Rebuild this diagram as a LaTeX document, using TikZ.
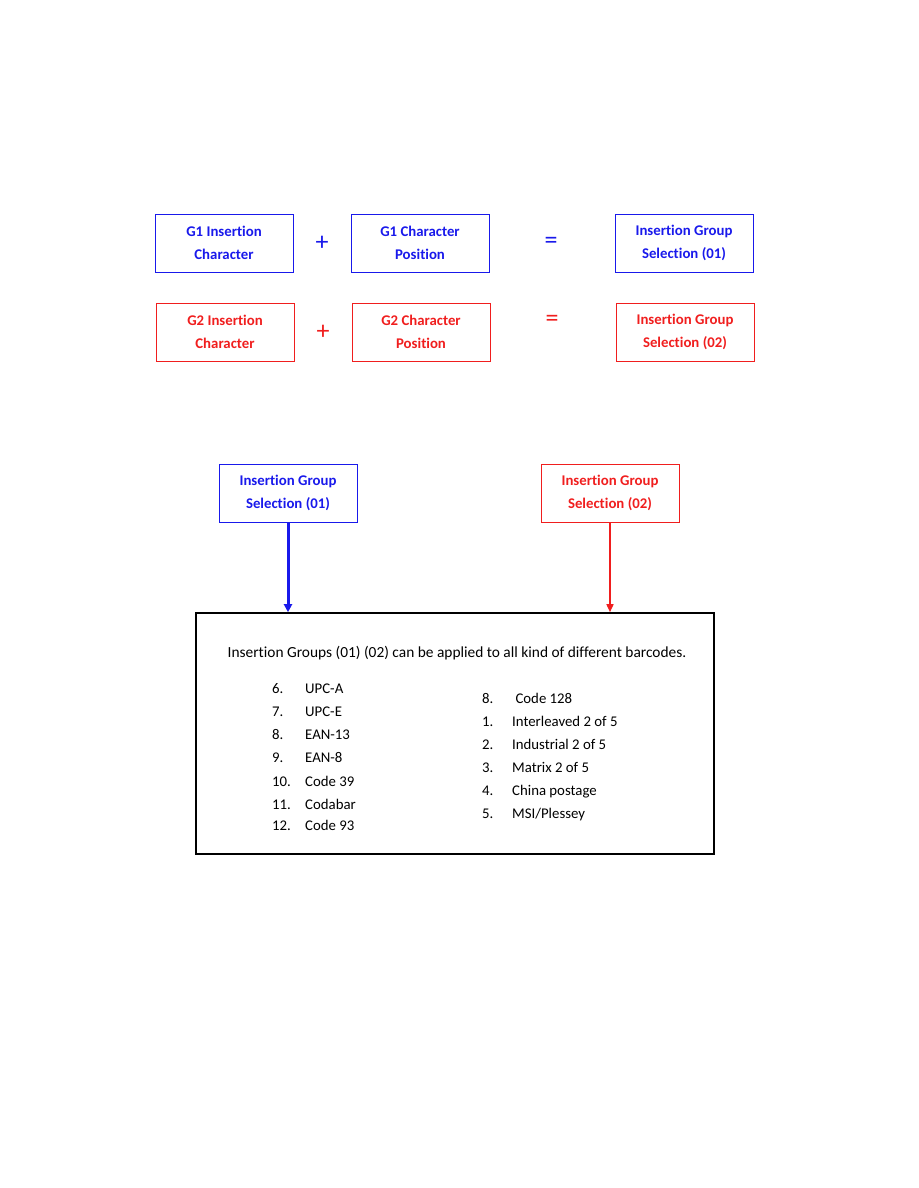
\documentclass[tikz,border=0pt]{standalone}
\usepackage{fontspec}
\setmainfont{Carlito}[Ligatures=NoCommon]
\usetikzlibrary{arrows.meta}
\definecolor{gblue}{RGB}{25,25,235}
\definecolor{gred}{RGB}{240,30,30}
\begin{document}
\begin{tikzpicture}[x=1pt,y=-1pt,
	selbox/.style={draw,line width=1pt,minimum width=138pt,minimum height=58pt,align=center,inner sep=0pt,font=\fontsize{14.8}{23}\selectfont\bfseries},
	sign/.style={font=\fontsize{26}{26}\selectfont},
	item/.style={anchor=base west,inner sep=0pt,font=\fontsize{14.8}{16}\selectfont}]
	\useasboundingbox (0,0) rectangle (918,1188);
	% top equations
	\node[selbox,gblue] (gonechar) at (224,243) {G1 Insertion\\Character};
	\node[sign,gblue] (gonepl) at (322,243) {+};
	\node[selbox,gblue] (gonepos) at (420,243) {G1 Character\\Position};
	\node[sign,gblue] (goneeq) at (551,243) {=};
	\node[selbox,gblue] (goneres) at (684,243) {Insertion Group\\Selection (01)};
	\node[selbox,gred] (gtwochar) at (225,332) {G2 Insertion\\Character};
	\node[sign,gred] (gtwopl) at (323,332) {+};
	\node[selbox,gred] (gtwopos) at (421,332) {G2 Character\\Position};
	\node[sign,gred] (gtwoeq) at (552,321) {=};
	\node[selbox,gred] (gtwores) at (685,332) {Insertion Group\\Selection (02)};
	% selections and barcode list
	\node[selbox,gblue] (selone) at (288,493) {Insertion Group\\Selection (01)};
	\node[selbox,gred] (seltwo) at (610,493) {Insertion Group\\Selection (02)};
	\node[draw,line width=1.6pt,minimum width=518pt,minimum height=241pt] (list) at (455,733.5) {};
	\draw[gblue,line width=3pt,-{Triangle[length=8pt,width=8pt]}] (selone.south) -- (selone.south |- list.north);
	\draw[gred,line width=1.5pt,-{Triangle[length=8pt,width=7pt]}] (seltwo.south) -- (seltwo.south |- list.north);
	\node[anchor=base,inner sep=0pt,font=\fontsize{15.4}{16}\selectfont] (title) at (457,657) {Insertion Groups (01) (02) can be applied to all kind of different barcodes.};
	\foreach \n/\t/\y in {6./UPC-A/693, 7./UPC-E/716, 8./EAN-13/739, 9./EAN-8/762, 10./Code 39/786, 11./Codabar/809, 12./Code 93/830}{
		\node[item] (ln\y) at (272,\y) {\n};
		\node[item] (lt\y) at (305,\y) {\t};
	}
	\foreach \n/\t/\y in {8./\ Code 128/703, 1./Interleaved 2 of 5/726, 2./Industrial 2 of 5/749, 3./Matrix 2 of 5/772, 4./China postage/795, 5./{MSI/Plessey}/818}{
		\node[item] (rn\y) at (482,\y) {\n};
		\node[item] (rt\y) at (512,\y) {\t};
	}
\end{tikzpicture}
\end{document}
